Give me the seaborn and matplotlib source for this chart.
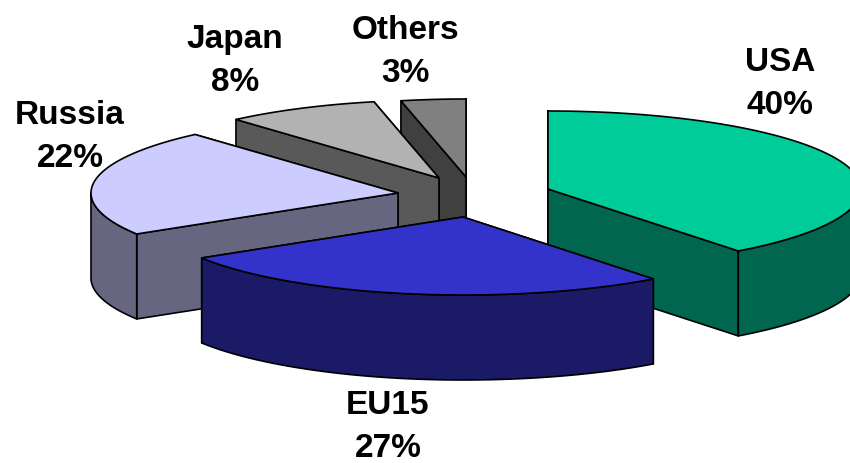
import numpy as np
import matplotlib
matplotlib.use("Agg")
import matplotlib.pyplot as plt
from matplotlib.patches import Polygon
import seaborn as sns

labels = ["USA", "EU15", "Russia", "Japan", "Others"]
shares = [39.6, 26.6, 22.3, 8.1, 3.4]
top_colors = ["#00CC99", "#3333CC", "#CCCCFF", "#B2B2B2", "#808080"]
side_colors = ["#006650", "#1A1A66", "#666680", "#595959", "#404040"]

# layout of the exploded slices (pixel space of the axes)
apex = {"USA": (548, 190), "EU15": (463, 218), "Russia": (398, 194),
        "Japan": (439, 179), "Others": (466, 178)}
label_pos = {"USA": (780, 84), "EU15": (388, 427), "Russia": (70, 137),
             "Japan": (235, 61), "Others": (405, 52)}
RX_RIGHT, RX_LEFT, RY, DEPTH = 313, 307, 78, 85
draw_order = ["Others", "Japan", "Russia", "USA", "EU15"]

sns.set_theme(style="white")
plt.rcParams["font.family"] = ["Liberation Sans", "DejaVu Sans"]
fig = plt.figure(figsize=(8.5, 4.64), dpi=100)
ax = fig.add_axes([0, 0, 1, 1])
ax.set_xlim(0, 850)
ax.set_ylim(464, 0)
ax.axis("off")


def arc(c, a0, a1):
    t = np.radians(np.linspace(a0, a1, 160))
    s = np.sin(t)
    rx = np.where(s >= 0, RX_RIGHT, RX_LEFT)
    return np.column_stack([c[0] + rx * s, c[1] - RY * np.cos(t)])


def face(pts, color, z):
    ax.add_patch(Polygon(pts, closed=True, facecolor=color, edgecolor="black",
                         linewidth=1.2, joinstyle="round", zorder=z))


edges = np.concatenate([[0], np.cumsum(shares)]) / sum(shares) * 360
spans = {n: (edges[i], edges[i + 1], i) for i, n in enumerate(labels)}
down = np.array([0, DEPTH])

for k, name in enumerate(draw_order):
    a0, a1, i = spans[name]
    c = np.array(apex[name], float)
    walls = sorted((arc(c, a, a)[0] for a in (a0, a1)), key=lambda p: p[1])
    for j, p in enumerate(walls):
        face([c, p, p + down, c + down], side_colors[i], k * 10 + j)
    lo, hi = max(a0, 90), min(a1, 270)
    if hi > lo:
        rim = arc(c, lo, hi)
        face(np.vstack([rim, (rim + down)[::-1]]), side_colors[i], k * 10 + 2)
    face(np.vstack([[c], arc(c, a0, a1)]), top_colors[i], k * 10 + 3)

for name, share in zip(labels, shares):
    x, y = label_pos[name]
    ax.text(x, y, f"{name}\n{share:.0f}%", ha="center", va="center",
            fontsize=24, fontweight="bold", color="black", linespacing=1.5,
            zorder=100)

fig.savefig("out.png", dpi=100, facecolor="white")
